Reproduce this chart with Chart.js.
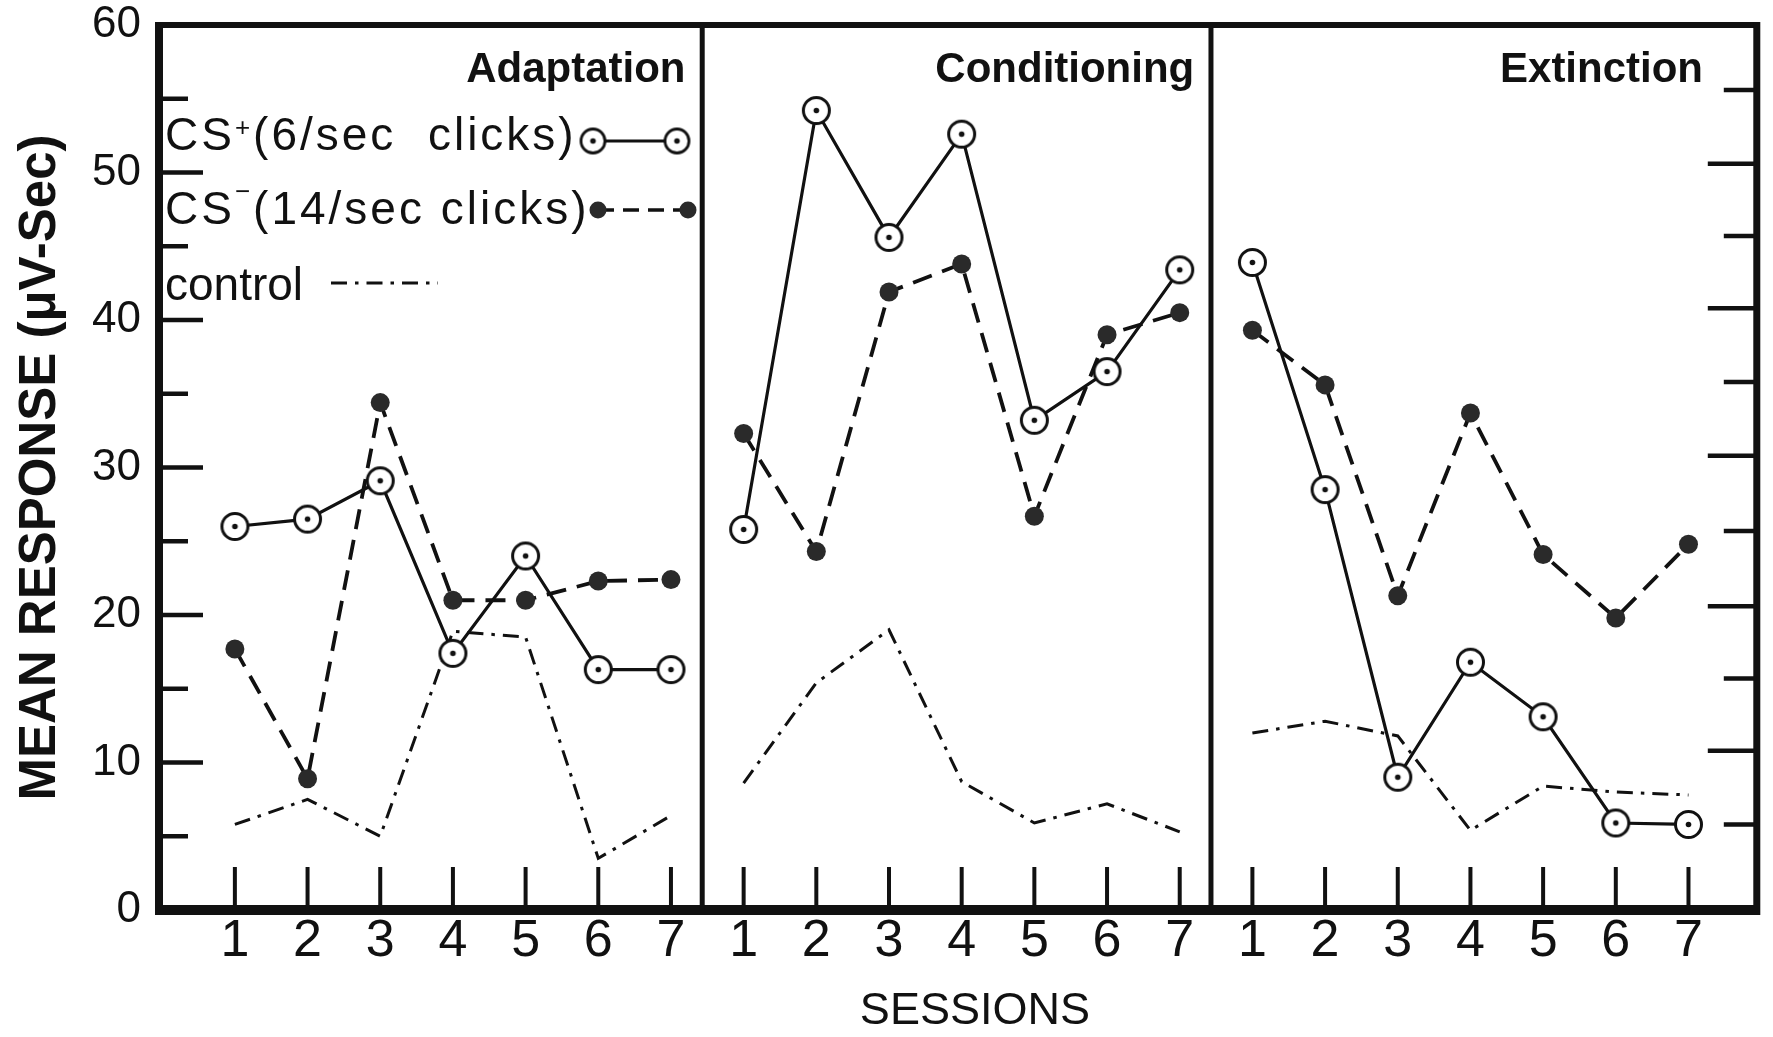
<!DOCTYPE html>
<html>
<head>
<meta charset="utf-8">
<script src="https://cdn.jsdelivr.net/npm/chart.js@4.4.1/dist/chart.umd.min.js"></script>
<style>
  html, body { margin: 0; padding: 0; background: #fff; }
  #wrap { width: 1773px; height: 1037px; }
</style>
</head>
<body>
<div id="wrap"><canvas id="chart" width="1773" height="1037"></canvas></div>
<script>
// sessions inside each phase, and the phases (panels)
const sessions = [1, 2, 3, 4, 5, 6, 7];
const sessionLabels = ['1', '2', '3', '4', '5', '6', '7'];
const phases = ['Adaptation', 'Conditioning', 'Extinction'];

// CS+ (6/sec clicks) - open circles, solid line
const csPlusAdaptation   = [26.0, 26.5, 29.1, 17.4, 24.0, 16.3, 16.3];
const csPlusConditioning = [25.8, 54.2, 45.6, 52.6, 33.2, 36.5, 43.4];
const csPlusExtinction   = [43.9, 28.5, 9.0, 16.8, 13.1, 5.9, 5.8];

// CS- (14/sec clicks) - filled dots, dashed line
const csMinusAdaptation   = [17.7, 8.9, 34.4, 21.0, 21.0, 22.3, 22.4];
const csMinusConditioning = [32.3, 24.3, 41.9, 43.8, 26.7, 39.0, 40.5];
const csMinusExtinction   = [39.3, 35.6, 21.3, 33.7, 24.1, 19.8, 24.8];

// control - dash-dot line, no markers
const controlAdaptation   = [5.8, 7.5, 5.0, 18.9, 18.5, 3.5, 6.4];
const controlConditioning = [8.6, 15.4, 19.0, 8.7, 5.9, 7.2, 5.3];
const controlExtinction   = [12.0, 12.8, 11.8, 5.4, 8.4, 8.0, 7.8];

// axis ticks
const yTicks = [0, 10, 20, 30, 40, 50, 60];
const yMinorTicks = [5, 15, 25, 35, 45, 55];
const rightTicks = [5.8, 10.8, 15.7, 20.6, 25.7, 30.8, 35.8, 40.8, 45.7, 50.6, 55.6];

const INK = '#111';
const DOT = '#2a2a2a';
const PANEL = 7;  // session slots per panel on the x scale

const csPlus = [csPlusAdaptation, csPlusConditioning, csPlusExtinction];
const csMinus = [csMinusAdaptation, csMinusConditioning, csMinusExtinction];
const control = [controlAdaptation, controlConditioning, controlExtinction];

function toPoints(values, phase) {
  return values.map((v, i) => ({ x: sessions[i] + PANEL * phase, y: v }));
}

// open circle with a dot in the middle
function makeRing(r, lw) {
  const c = document.createElement('canvas');
  const size = Math.ceil(2 * r + lw + 2);
  c.width = size; c.height = size;
  const g = c.getContext('2d');
  g.beginPath();
  g.arc(size / 2, size / 2, r, 0, Math.PI * 2);
  g.fillStyle = '#fff';
  g.fill();
  g.lineWidth = lw;
  g.strokeStyle = INK;
  g.stroke();
  g.beginPath();
  g.arc(size / 2, size / 2, 2.8, 0, Math.PI * 2);
  g.fillStyle = INK;
  g.fill();
  return c;
}
const ringMarker = makeRing(13, 3);
const ringLegend = makeRing(12, 2.8);

const tickPositions = [];
phases.forEach((_, p) => sessions.forEach(s => tickPositions.push(s + PANEL * p)));

const datasets = [];
phases.forEach((name, p) => {
  datasets.push({
    label: 'CS+ ' + name,
    data: toPoints(csPlus[p], p),
    borderColor: INK,
    borderWidth: 3.2,
    pointStyle: ringMarker,
    pointRadius: 13
  });
});
phases.forEach((name, p) => {
  datasets.push({
    label: 'CS- ' + name,
    data: toPoints(csMinus[p], p),
    borderColor: INK,
    borderWidth: 3.8,
    borderDash: [20, 11],
    pointStyle: 'circle',
    pointRadius: 9.5,
    pointBorderWidth: 0,
    pointBackgroundColor: DOT
  });
});
phases.forEach((name, p) => {
  datasets.push({
    label: 'control ' + name,
    data: toPoints(control[p], p),
    borderColor: INK,
    borderWidth: 3,
    borderDash: [16, 8, 3.5, 8],
    pointRadius: 0
  });
});

function seg(ctx, x1, y1, x2, y2, w) {
  ctx.lineWidth = w;
  ctx.beginPath();
  ctx.moveTo(x1, y1);
  ctx.lineTo(x2, y2);
  ctx.stroke();
}

// frame, panel dividers and the inward tick marks
const framePlugin = {
  id: 'frame',
  beforeDatasetsDraw(chart) {
    const { ctx, chartArea: a, scales: { x, y } } = chart;
    ctx.save();
    ctx.strokeStyle = INK;
    seg(ctx, a.left, a.top - 3, a.left, a.bottom + 5, 8);
    seg(ctx, a.left, a.top, a.right, a.top, 6);
    seg(ctx, a.right, a.top - 3, a.right, a.bottom + 5, 7);
    seg(ctx, a.left - 4, a.bottom, a.right + 3, a.bottom, 10);
    [1, 2].forEach(k => {
      const px = x.getPixelForValue(PANEL * k + 0.43);
      seg(ctx, px, a.top, px, a.bottom, 5);
    });
    yTicks.slice(1, -1).forEach(v => {
      const py = y.getPixelForValue(v);
      seg(ctx, a.left, py, a.left + 44, py, 4.5);
    });
    yMinorTicks.forEach(v => {
      const py = y.getPixelForValue(v);
      seg(ctx, a.left, py, a.left + 29, py, 4.5);
    });
    rightTicks.forEach((v, i) => {
      const py = y.getPixelForValue(v);
      seg(ctx, a.right, py, a.right - (i % 2 ? 49 : 33), py, 4.5);
    });
    tickPositions.forEach(v => {
      const px = x.getPixelForValue(v);
      seg(ctx, px, a.bottom, px, a.bottom - 43, 4);
    });
    ctx.restore();
  },
  afterDatasetsDraw(chart) {
    const { ctx, chartArea: a, scales: { x } } = chart;
    ctx.save();
    ctx.fillStyle = INK;
    ctx.textBaseline = 'alphabetic';

    // panel titles
    ctx.font = "bold 42px 'Liberation Sans'";
    ctx.textAlign = 'right';
    phases.forEach((name, p) => {
      ctx.fillText(name, x.getPixelForValue(PANEL * p + 7.2), a.top + 57);
    });

    // x axis title, a little right of the centre as in the original
    ctx.textAlign = 'center';
    ctx.font = "45px 'Liberation Sans'";
    ctx.fillText('SESSIONS', (a.left + a.right) / 2 + 17, a.bottom + 114);

    // legend in the first panel
    ctx.textAlign = 'left';
    const lx = a.left + 6;
    const rows = [
      { base: 'CS', sup: '+', rest: '(6/sec  clicks)', baseline: a.top + 125, raise: 14 },
      { base: 'CS', sup: '\u2212', rest: '(14/sec clicks)', baseline: a.top + 199, raise: 24 }
    ];
    rows.forEach(r => {
      ctx.letterSpacing = '3px';
      ctx.font = "46px 'Liberation Sans'";
      let cx = lx;
      ctx.fillText(r.base, cx, r.baseline);
      cx += ctx.measureText(r.base).width;
      ctx.font = "26px 'Liberation Sans'";
      ctx.fillText(r.sup, cx, r.baseline - r.raise);
      cx += ctx.measureText(r.sup).width;
      ctx.font = "46px 'Liberation Sans'";
      ctx.fillText(r.rest, cx, r.baseline);
    });
    ctx.letterSpacing = '0px';
    ctx.font = "46px 'Liberation Sans'";
    ctx.fillText('control', lx, a.top + 275);

    // legend keys
    ctx.strokeStyle = INK;
    const k1 = a.top + 116;
    seg(ctx, a.left + 434, k1, a.left + 518, k1, 3);
    ctx.drawImage(ringLegend, a.left + 434 - ringLegend.width / 2, k1 - ringLegend.height / 2);
    ctx.drawImage(ringLegend, a.left + 518 - ringLegend.width / 2, k1 - ringLegend.height / 2);

    const k2 = a.top + 185;
    ctx.setLineDash([16, 9]);
    seg(ctx, a.left + 439, k2, a.left + 529, k2, 3.6);
    ctx.setLineDash([]);
    ctx.fillStyle = DOT;
    [439, 529].forEach(dx => {
      ctx.beginPath();
      ctx.arc(a.left + dx, k2, 8.5, 0, Math.PI * 2);
      ctx.fill();
    });

    const k3 = a.top + 258;
    ctx.setLineDash([16, 8, 3.5, 8]);
    seg(ctx, a.left + 172, k3, a.left + 279, k3, 3);
    ctx.restore();
  }
};

new Chart(document.getElementById('chart'), {
  type: 'line',
  data: { datasets },
  options: {
    responsive: false,
    animation: false,
    devicePixelRatio: 1,
    layout: { padding: { left: 0, right: 14, top: 25, bottom: 0 } },
    elements: { line: { tension: 0, fill: false } },
    plugins: { legend: { display: false }, tooltip: { enabled: false } },
    scales: {
      x: {
        type: 'linear',
        min: -0.044,
        max: 21.94,
        afterBuildTicks: s => { s.ticks = tickPositions.map(v => ({ value: v })); },
        afterFit: s => { s.height = 127; },
        grid: { display: false, drawTicks: false },
        border: { display: false },
        ticks: {
          color: INK,
          autoSkip: false,
          maxRotation: 0,
          padding: 0,
          font: { family: 'Liberation Sans', size: 52 },
          callback: v => sessionLabels[(Math.round(v) - 1) % PANEL]
        }
      },
      y: {
        min: 0,
        max: 60,
        afterBuildTicks: s => { s.ticks = yTicks.map(v => ({ value: v })); },
        afterFit: s => { s.width = 159; s.paddingTop = 0; s.paddingBottom = 0; },
        grid: { display: false, drawTicks: false },
        border: { display: false },
        ticks: {
          color: INK,
          padding: 18,
          font: { family: 'Liberation Sans', size: 44, lineHeight: 1 }
        },
        title: {
          display: true,
          text: 'MEAN RESPONSE (\u03bcV-Sec)',
          color: INK,
          font: { family: 'Liberation Sans', size: 51, weight: 'bold' },
          padding: { top: 10, bottom: 0 }
        }
      }
    }
  },
  plugins: [framePlugin]
});
</script>
</body>
</html>
